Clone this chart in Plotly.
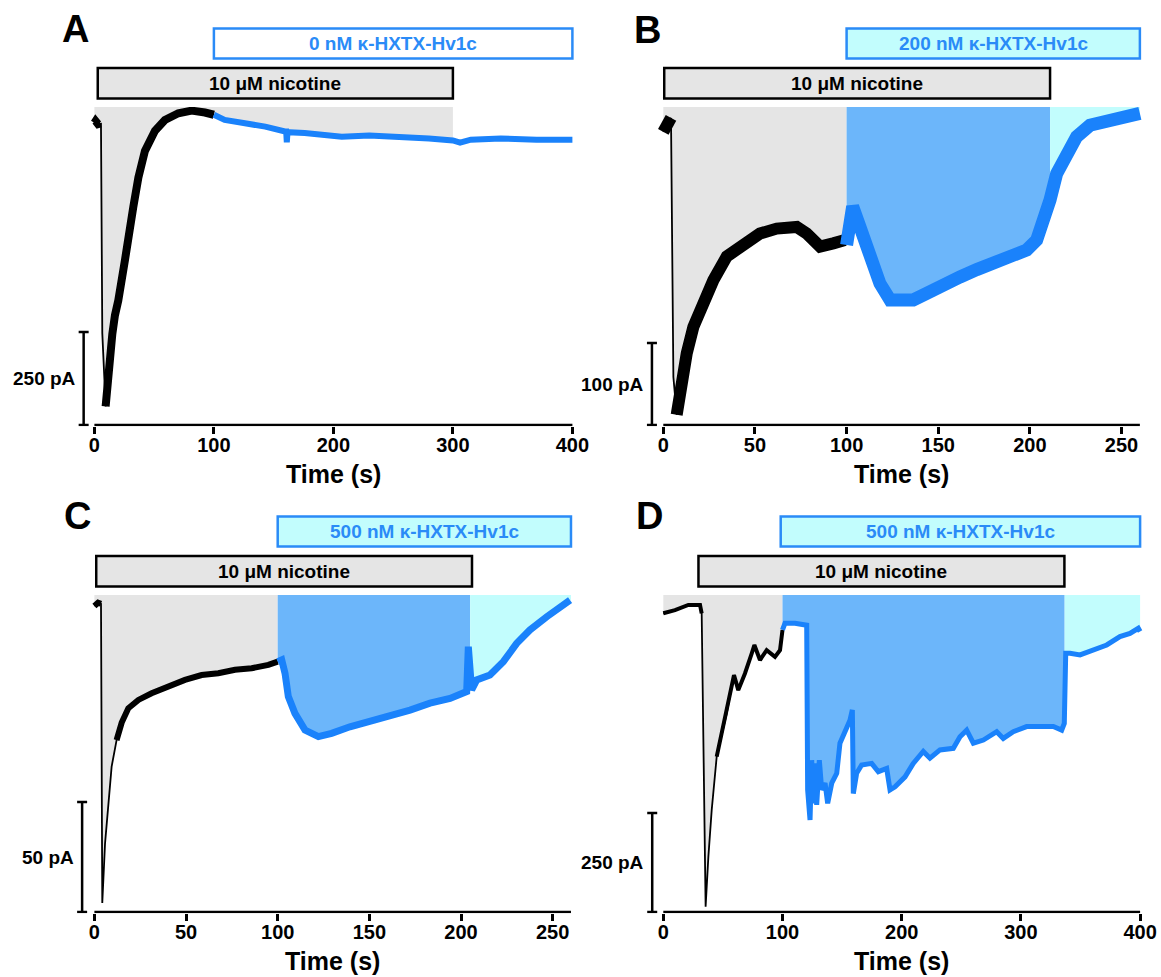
import numpy as np
import plotly.graph_objects as go

# ---------------- data: time (s) and current (pA) ----------------
# A: 0 nM toxin
a_t_black = [0, 1, 3, 5, 5.5, 6.6, 9.4, 11, 13, 15, 17.2, 20, 25.6, 28.4, 32.6, 36.8, 42.3, 50.7, 59, 70.2, 81.4, 92.5, 100]
a_i_black = [-3, 2, -6, -4, -5, -568, -765, -700, -620, -570, -520, -480, -371, -300, -228, -150, -78, -24, 5, 23, 30, 25, 19]
a_t_blue = [100, 109, 126, 143, 159.5, 160.5, 161, 161.6, 176, 193, 207, 230, 255, 280, 300, 306, 315, 340, 370, 400]
a_i_blue = [19, 5, -4, -13, -26, -26, -55, -28, -30, -35, -40, -37, -40, -45, -50, -56, -48, -45, -48, -48]

# B: 200 nM toxin
b_t_black = [0, 2, 4.2, 5.5, 7.3, 9.1, 12.8, 16.4, 21.8, 27.3, 34.6, 43.6, 52.7, 61.9, 72.8, 78.2, 85.5, 92.7, 99.1, 100]
b_i_black = [-12, -2, 5, -311, -357, -331, -282, -250, -217, -193, -164, -148, -136, -130, -128, -136, -152, -148, -144, -150]
b_t_blue = [100, 103.3, 107.3, 112.8, 118.2, 123.7, 129.1, 136.4, 143.7, 152.8, 161.9, 171, 180, 189.1, 198.3,
            203.7, 208.2, 211, 214.6, 220, 225.5, 232.8, 241.9, 249.2, 260]
b_i_blue = [-150, -103, -128, -164, -197, -217, -217, -217, -209, -201, -189, -180, -172, -164, -156,
            -144, -120, -95, -63, -38, -18, -4, 2, 4.5, 10.6]

# C: 500 nM toxin
c_t_black = [0, 2, 3.6, 4.3, 5.8, 7.6, 9.4, 12.1, 14.9, 18.5, 24, 31.2, 40.3, 49.4, 58.5, 67.6, 76.7, 85.8, 94.9, 100]
c_i_black = [0, 1.5, 1, -135, -108, -90, -73, -61, -53, -46.5, -42.7, -39.7, -36.7, -33.6, -31.4, -30.6, -29, -28.3, -26.8, -25.3]
c_t_blue = [100, 102.2, 104, 105.8, 109.4, 114.9, 122.2, 129.4, 139.4, 150.3, 161.3, 172.2, 183.1, 194, 203.1,
            204, 205.8, 208.6, 215.8, 223.1, 230.4, 237.6, 246.8, 259.5]
c_i_blue = [-25.3, -24.5, -30.6, -41.2, -48.8, -56.4, -59.4, -57.9, -54.9, -52.6, -49.5, -47.3, -44.2, -42, -38.9,
            -18.5, -38.2, -33.6, -31.4, -25.3, -17, -10.9, -4.9, 2.7]

# D: 500 nM toxin
d_t_black = [0, 9.8, 21, 30.8, 32.2, 33.6, 35.5, 37.8, 40.6, 44.8, 49, 53.2, 57.4, 59.3, 62.9, 68.5, 74.2, 76.4,
             81.1, 86.7, 93.7, 97.9, 100]
d_i_black = [17, 25, 38, 38, 17, -261, -724, -598, -480, -345, -286, -236, -168, -139, -177, -135, -84, -63,
             -101, -76, -93, -76, -25]
d_t_blue = [100, 102.1, 110.5, 120.3, 121.1, 123.1, 124.5, 125.8, 127.3, 128.7, 130.9, 132.9, 135.7, 137.9, 141.3,
            145.5, 148.2, 152.4, 156.6, 158.6, 159.4, 162.2, 166.4, 174.8, 180.4, 187.4, 190.2, 194.4, 202.8, 209.7,
            218.1, 223.7, 232.1, 243.3, 248.9, 254.5, 260.1, 268.5, 279.7, 285.2, 293.6, 304.8, 316, 327.2, 334.2,
            336.4, 337.6, 341.2, 349.6, 360.7, 372, 383.1, 391.5, 398.5, 400]
d_i_blue = [-25, -8, -8, -13, -429, -505, -354, -463, -362, -467, -354, -429, -412, -463, -412,
            -387, -311, -278, -253, -227, -438, -387, -366, -362, -383, -375, -429, -421, -396, -362,
            -332, -349, -328, -324, -295, -278, -311, -303, -282, -299, -282, -269, -269, -269, -278,
            -261, -84, -84, -88, -76, -63, -42, -34, -21, -29]

# drug application periods (s)
a_nic, a_tox = (2.8, 300), (100, 400)
b_nic, b_tox = (0.5, 211), (100, 260)
c_nic, c_tox = (1, 206), (100, 260)
d_nic, d_tox = (29.5, 336.5), (98.5, 400)

ticks_400 = [0, 100, 200, 300, 400]
ticks_250 = [0, 50, 100, 150, 200, 250]

nic_label = "10 μM nicotine"
tox_labels = ["0 nM κ-HXTX-Hv1c", "200 nM κ-HXTX-Hv1c", "500 nM κ-HXTX-Hv1c", "500 nM κ-HXTX-Hv1c"]
scale_vals = [250, 100, 50, 250]

# ---------------- style ----------------
W, H = 1161, 977          # reference picture size; positions below are in its pixels
FIG_W = 1174              # page is captured a bit wider than the window, so widen to compensate
FONT = "Liberation Sans, Arial, Helvetica, sans-serif"
BLUE = "#1a82fb"
BOX_BLUE = "#2a8bf7"
GRAY_FILL = "#e5e5e5"
BLUE_FILL = "#6cb6fa"
CYAN_FILL = "#c2fdfd"


def px_x(p):
    return p / W


def px_y(p):
    return 1 - p / H


panels = [
    dict(letter="A", tb=a_t_black, ib=a_i_black, tu=a_t_blue, iu=a_i_blue, thin=(5, 9.4), wb=8, wu=6,
         fills=[(0, 300, GRAY_FILL)], nic=a_nic, tox=a_tox, tox_fill="white", ticks=ticks_400, t_end=400,
         x0=94.4, sx=1.195, xr=(-20, 403), ytop=107, yaxis=425, kpa=250 / 93, ybot=-815, bar_t=-9,
         box_top=28.5, letter_xy=(75.5, 29)),
    dict(letter="B", tb=b_t_black, ib=b_i_black, tu=b_t_blue, iu=b_i_blue, thin=(4.2, 7.3), wb=12, wu=13,
         fills=[(0, 100, GRAY_FILL), (100, 211, BLUE_FILL), (211, 260, CYAN_FILL)], nic=b_nic, tox=b_tox,
         tox_fill=CYAN_FILL, ticks=ticks_250, t_end=260,
         x0=663.3, sx=1.833, xr=(-10, 262), ytop=107, yaxis=425, kpa=100 / 82, ybot=-369.5, bar_t=-6.2,
         box_top=28.5, letter_xy=(647.5, 30)),
    dict(letter="C", tb=c_t_black, ib=c_i_black, tu=c_t_blue, iu=c_i_blue, thin=(3.6, 12.1), wb=6, wu=7,
         fills=[(0, 100, GRAY_FILL), (100, 205, BLUE_FILL), (205, 260, CYAN_FILL)], nic=c_nic, tox=c_tox,
         tox_fill=CYAN_FILL, ticks=ticks_250, t_end=260,
         x0=94.4, sx=1.833, xr=(-10, 262), ytop=595, yaxis=912, kpa=50 / 110, ybot=-139.1, bar_t=-6.7,
         box_top=516.5, letter_xy=(77.5, 516)),
    dict(letter="D", tb=d_t_black, ib=d_i_black, tu=d_t_blue, iu=d_i_blue, thin=(32.2, 44.8), wb=4, wu=5,
         fills=[(0, 100, GRAY_FILL), (100, 336.7, BLUE_FILL), (336.7, 400, CYAN_FILL)], nic=d_nic, tox=d_tox,
         tox_fill=CYAN_FILL, ticks=ticks_400, t_end=400,
         x0=663.3, sx=1.192, xr=(-16, 403), ytop=595, yaxis=912, kpa=250 / 99, ybot=-737.3, bar_t=-9.3,
         box_top=516.5, letter_xy=(649, 516)),
]

fig = go.Figure()
shapes, annos = [], []
layout_axes = {}

for j, p in enumerate(panels):
    sfx = "" if j == 0 else str(j + 1)
    xa, ya = "x" + sfx, "y" + sfx
    k = p["kpa"]
    y_top = p["ybot"] + (p["yaxis"] - p["ytop"]) * k
    yr = [p["ybot"] - 1.25 * k, y_top]
    xdom = [px_x(p["x0"] + p["xr"][0] * p["sx"]), px_x(p["x0"] + p["xr"][1] * p["sx"])]
    ydom = [px_y(p["yaxis"] + 1.25), px_y(p["ytop"])]

    layout_axes["xaxis" + sfx] = dict(
        domain=xdom, range=list(p["xr"]), anchor=ya, tickvals=p["ticks"], ticks="outside", ticklen=7,
        tickwidth=2.5, tickcolor="black", showline=False, showgrid=False, zeroline=False,
        ticklabelstandoff=-6,
        tickfont=dict(family=FONT, size=20, color="black", weight="bold"), fixedrange=True)
    layout_axes["yaxis" + sfx] = dict(
        domain=ydom, range=yr, anchor=xa, visible=False, showgrid=False, zeroline=False, fixedrange=True)

    # whole trace, for the shaded drug periods
    t_all = np.array(p["tb"] + p["tu"][1:], dtype=float)
    i_all = np.array(p["ib"] + p["iu"][1:], dtype=float)
    for a, b, col in p["fills"]:
        m = (t_all > a) & (t_all < b)
        xs = [a, a] + list(t_all[m]) + [b, b]
        ys = [y_top, np.interp(a, t_all, i_all)] + list(i_all[m]) + [np.interp(b, t_all, i_all), y_top]
        fig.add_trace(go.Scatter(x=xs, y=ys, mode="lines", fill="toself", fillcolor=col,
                                 line=dict(width=0, color=col), xaxis=xa, yaxis=ya, hoverinfo="skip"))

    # control (black) and toxin (blue) segments
    tb, ib = np.array(p["tb"], dtype=float), np.array(p["ib"], dtype=float)
    fig.add_trace(go.Scatter(x=tb, y=ib, mode="lines", line=dict(color="black", width=1.8),
                             xaxis=xa, yaxis=ya, hoverinfo="skip"))
    for m in (tb <= p["thin"][0], tb >= p["thin"][1]):
        fig.add_trace(go.Scatter(x=tb[m], y=ib[m], mode="lines", line=dict(color="black", width=p["wb"]),
                                 xaxis=xa, yaxis=ya, hoverinfo="skip"))
    fig.add_trace(go.Scatter(x=p["tu"], y=p["iu"], mode="lines", line=dict(color=BLUE, width=p["wu"]),
                             xaxis=xa, yaxis=ya, hoverinfo="skip"))

    # x-axis line
    shapes.append(dict(type="line", xref=xa, yref=ya, x0=0, x1=p["t_end"], y0=p["ybot"], y1=p["ybot"],
                       line=dict(color="black", width=2.5)))
    # current scale bar
    cap = 5 / p["sx"]
    y0s, y1s = p["ybot"], p["ybot"] + scale_vals[j]
    shapes.append(dict(type="line", xref=xa, yref=ya, x0=p["bar_t"], x1=p["bar_t"], y0=y0s, y1=y1s,
                       line=dict(color="black", width=2.5)))
    for yy in (y0s, y1s):
        shapes.append(dict(type="line", xref=xa, yref=ya, x0=p["bar_t"] - cap, x1=p["bar_t"] + cap, y0=yy, y1=yy,
                           line=dict(color="black", width=2.5)))
    annos.append(dict(xref=xa, yref=ya, x=p["bar_t"], y=(y0s + y1s) / 2, xanchor="right", yanchor="middle",
                      xshift=-6, showarrow=False, text=f"<b>{scale_vals[j]} pA</b>",
                      font=dict(family=FONT, size=19, color="black")))

    # drug bars
    bt = p["box_top"]
    shapes.append(dict(type="rect", xref=xa, yref="paper", x0=p["tox"][0], x1=p["tox"][1],
                       y0=px_y(bt + 30), y1=px_y(bt), fillcolor=p["tox_fill"],
                       line=dict(color=BOX_BLUE, width=2.5)))
    shapes.append(dict(type="rect", xref=xa, yref="paper", x0=p["nic"][0], x1=p["nic"][1],
                       y0=px_y(bt + 70), y1=px_y(bt + 39.5), fillcolor=GRAY_FILL,
                       line=dict(color="black", width=2.5)))
    annos.append(dict(xref=xa, yref="paper", x=sum(p["tox"]) / 2, y=px_y(bt + 15), showarrow=False,
                      xanchor="center", yanchor="middle",
                      text=f"<b>{tox_labels[j]}</b>", font=dict(family=FONT, size=19, color=BOX_BLUE)))
    annos.append(dict(xref=xa, yref="paper", x=sum(p["nic"]) / 2, y=px_y(bt + 55), showarrow=False,
                      xanchor="center", yanchor="middle",
                      text=f"<b>{nic_label}</b>", font=dict(family=FONT, size=19, color="black")))

    # axis title and panel letter
    annos.append(dict(xref=xa, yref="paper", x=p["t_end"] / 2, y=px_y(p["yaxis"] + 49), showarrow=False,
                      xanchor="center", yanchor="middle",
                      text="<b>Time (s)</b>", font=dict(family=FONT, size=25, color="black")))
    annos.append(dict(xref="paper", yref="paper", x=px_x(p["letter_xy"][0]), y=px_y(p["letter_xy"][1]),
                      xanchor="center", yanchor="middle",
                      showarrow=False, text=f"<b>{p['letter']}</b>",
                      font=dict(family=FONT, size=38, color="black")))

fig.update_layout(
    width=FIG_W, height=H, autosize=False, margin=dict(l=0, r=0, t=0, b=0),
    paper_bgcolor="white", plot_bgcolor="white", showlegend=False,
    shapes=shapes, annotations=annos, **layout_axes)

fig.write_html(
    "out.html",
    config={"displayModeBar": False, "responsive": False},
    post_script="document.documentElement.style.overflow='hidden';"
                "document.body.style.overflow='hidden';document.body.style.margin='0';",
)
